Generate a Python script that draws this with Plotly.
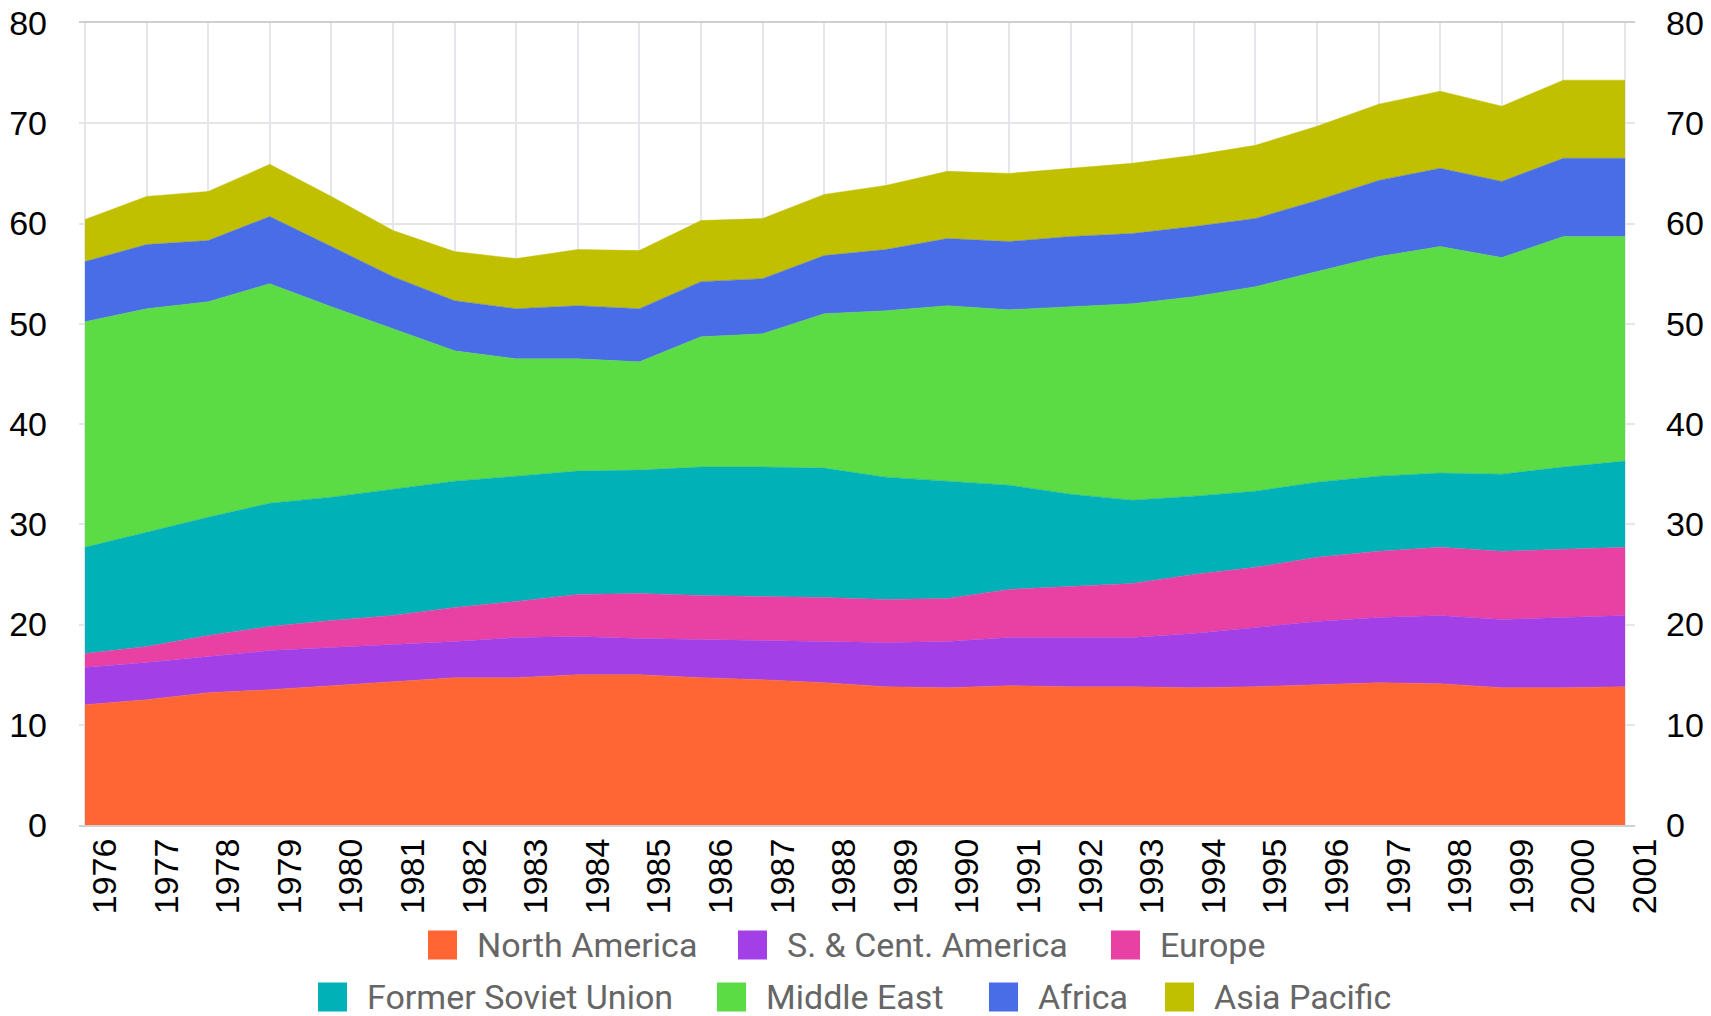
import plotly.graph_objects as go

# Years on the horizontal axis
years = list(range(1976, 2002))

# Regional values (stacked), one list per region
north_america = [12.0, 12.5, 13.2, 13.5, 13.9, 14.3, 14.7, 14.7, 15.0, 15.0, 14.7, 14.5, 14.2,
                 13.8, 13.7, 13.9, 13.8, 13.8, 13.7, 13.8, 14.0, 14.2, 14.1, 13.7, 13.7, 13.8]
s_cent_america = [3.7, 3.7, 3.6, 3.9, 3.8, 3.7, 3.6, 4.0, 3.8, 3.6, 3.8, 3.9, 4.1,
                  4.4, 4.6, 4.8, 4.9, 4.9, 5.4, 5.9, 6.3, 6.5, 6.8, 6.8, 7.0, 7.1]
europe = [1.4, 1.6, 2.1, 2.4, 2.7, 2.9, 3.4, 3.6, 4.2, 4.5, 4.4, 4.4, 4.4,
          4.3, 4.3, 4.8, 5.1, 5.4, 5.9, 6.0, 6.4, 6.6, 6.8, 6.8, 6.8, 6.8]
former_soviet_union = [10.6, 11.4, 11.8, 12.3, 12.3, 12.6, 12.6, 12.5, 12.3, 12.3, 12.8, 12.9, 12.9,
                       12.2, 11.7, 10.4, 9.2, 8.3, 7.8, 7.6, 7.5, 7.5, 7.4, 7.7, 8.2, 8.6]
middle_east = [22.5, 22.3, 21.5, 21.9, 19.0, 16.0, 13.0, 11.7, 11.2, 10.8, 13.0, 13.3, 15.4,
               16.6, 17.5, 17.5, 18.7, 19.6, 19.9, 20.4, 21.0, 21.9, 22.6, 21.6, 23.0, 22.4]
africa = [6.0, 6.4, 6.1, 6.7, 6.0, 5.2, 5.0, 5.0, 5.3, 5.3, 5.5, 5.5, 5.8,
          6.1, 6.7, 6.8, 7.0, 7.0, 7.0, 6.8, 7.1, 7.6, 7.8, 7.6, 7.8, 7.8]
asia_pacific = [4.2, 4.8, 4.9, 5.2, 5.0, 4.6, 4.9, 5.0, 5.6, 5.8, 6.1, 6.0, 6.1,
                6.4, 6.7, 6.8, 6.8, 7.0, 7.1, 7.3, 7.4, 7.6, 7.7, 7.5, 7.8, 7.8]

region_names = ["North America", "S. & Cent. America", "Europe", "Former Soviet Union",
                "Middle East", "Africa", "Asia Pacific"]
region_values = [north_america, s_cent_america, europe, former_soviet_union,
                 middle_east, africa, asia_pacific]
region_colors = ["#FF6633", "#A23FE6", "#E841A3", "#00B1B8", "#5BDB44", "#486DE6", "#C0C000"]

y_ticks = list(range(0, 81, 10))

# Plot-area geometry in pixels
W, H = 1711, 1016
PLOT_L, PLOT_R, PLOT_T, PLOT_B = 79, 1635, 23, 825


def px_x(x):
    return (x - PLOT_L) / (PLOT_R - PLOT_L)


def px_y(y):
    return (PLOT_B - y) / (PLOT_B - PLOT_T)


fig = go.Figure()

for name, vals, color in zip(region_names, region_values, region_colors):
    fig.add_trace(go.Scatter(
        x=years, y=vals, name=name, mode="lines",
        stackgroup="regions",
        line=dict(color=color, width=0.5),
        fillcolor=color,
        showlegend=False,
    ))

# Invisible companion trace so the right-hand axis is rendered
fig.add_trace(go.Scatter(x=years, y=[sum(v) for v in zip(*region_values)],
                         mode="none", yaxis="y2", showlegend=False, hoverinfo="skip"))

tick_font = dict(family="Arial, Liberation Sans, sans-serif", size=34, color="#000000")

fig.update_layout(
    width=W, height=H,
    margin=dict(l=PLOT_L, r=W - PLOT_R, t=PLOT_T, b=H - PLOT_B),
    paper_bgcolor="white", plot_bgcolor="white",
    xaxis=dict(
        range=[1975.903, 2001.162],
        tickmode="array", tickvals=years, ticktext=[str(y) for y in years],
        tickangle=-90, tickfont=tick_font,
        ticklabelshift=20, ticklabelstandoff=-2,
        showgrid=True, gridcolor="#e6e7ec", gridwidth=1.5,
        showline=True, mirror=True, linecolor="#cfcfcf", linewidth=2,
        zeroline=False, ticks="", automargin=False,
    ),
    yaxis=dict(
        range=[0, 80], tickmode="array", tickvals=y_ticks,
        tickfont=tick_font, ticklabelstandoff=31,
        showgrid=True, gridcolor="#e6e6e6", gridwidth=1.5,
        zeroline=False, showline=False, ticks="", automargin=False,
    ),
    yaxis2=dict(
        range=[0, 80], tickmode="array", tickvals=y_ticks,
        tickfont=tick_font, ticklabelstandoff=30,
        overlaying="y", side="right", anchor="x",
        showgrid=False, zeroline=False, showline=False, ticks="", automargin=False,
    ),
    showlegend=False,
)

# Legend drawn as colour squares with labels, two centred rows
legend_rows = [
    [(0, 428), (1, 738), (2, 1111)],
    [(3, 318), (4, 717), (5, 989), (6, 1165)],
]
row_centers = [945, 997]
SQ = 29
shapes, annotations = [], []
for row, cy in zip(legend_rows, row_centers):
    for idx, sx in row:
        shapes.append(dict(
            type="rect", xref="paper", yref="paper",
            x0=px_x(sx), x1=px_x(sx + SQ),
            y0=px_y(cy + SQ / 2), y1=px_y(cy - SQ / 2),
            fillcolor=region_colors[idx], line=dict(width=0),
        ))
        annotations.append(dict(
            xref="paper", yref="paper", x=px_x(sx + 47), y=px_y(cy),
            xanchor="left", yanchor="middle", showarrow=False,
            text=region_names[idx],
            font=dict(family="Roboto, sans-serif", size=34, color="#666666"),
        ))
fig.update_layout(shapes=shapes, annotations=annotations)

fig.write_html("out.html")
